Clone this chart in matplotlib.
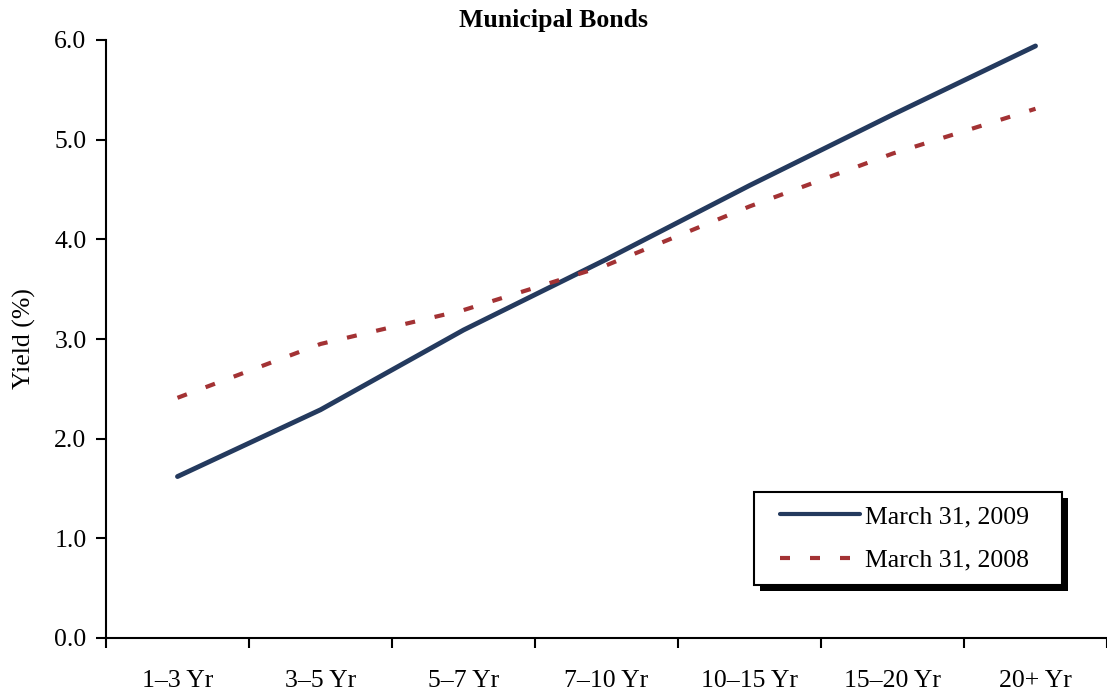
import matplotlib
matplotlib.use("Agg")
import matplotlib.pyplot as plt
from matplotlib.patches import Rectangle
from matplotlib.transforms import IdentityTransform

plt.rcParams['font.family'] = ['Liberation Serif', 'DejaVu Serif']

maturities = ["1–3 Yr", "3–5 Yr", "5–7 Yr", "7–10 Yr", "10–15 Yr", "15–20 Yr", "20+ Yr"]
yield_2009 = [1.62, 2.29, 3.09, 3.80, 4.54, 5.25, 5.94]
yield_2008 = [2.41, 2.95, 3.29, 3.74, 4.33, 4.86, 5.31]

navy = "#243a5e"
brick = "#a33234"
fs = 18.5

fig = plt.figure(figsize=(11.07, 6.94), dpi=100)
ax = fig.add_axes([106/1107, 1 - 638/694, 1 - 106/1107, (638 - 40)/694])

x = list(range(len(maturities)))
ax.plot(x, yield_2009, color=navy, lw=3.5, solid_capstyle='round', label="March 31, 2009")
ax.plot(x, yield_2008, color=brick, lw=3.0, dashes=(2.4, 4.8), dash_capstyle='butt',
        label="March 31, 2008")

ax.set_xlim(-0.5, len(maturities) - 0.5)
ax.set_ylim(0, 6)
ax.set_yticks([0, 1, 2, 3, 4, 5, 6])
ax.set_yticklabels([f"{v:.1f}" for v in range(7)])
ax.set_xticks([i - 0.5 for i in range(len(maturities) + 1)])
ax.set_xticklabels([])
ax.set_xticks(x, minor=True)
ax.set_xticklabels(maturities, minor=True)
ax.tick_params(axis='x', which='minor', length=0, pad=23, labelsize=fs)
ax.tick_params(axis='x', which='major', direction='out', length=7, width=1.5)
ax.tick_params(axis='y', direction='out', length=7, width=1.5, pad=7, labelsize=fs)

for s in ['top', 'right']:
    ax.spines[s].set_visible(False)
for s in ['left', 'bottom']:
    ax.spines[s].set_linewidth(1.5)
ax.spines['bottom'].set_clip_on(False)

ax.set_ylabel("Yield (%)", fontsize=fs, labelpad=13)
fig.text(0.5, 1 - 20/694, "Municipal Bonds", ha='center', va='center',
         fontsize=fs, fontweight='bold')

# legend without its own frame; box and shadow drawn around it below
leg = ax.legend(loc='upper left', bbox_to_anchor=(780/1107, 1 - 505/694),
                bbox_transform=fig.transFigure, fontsize=fs, frameon=False,
                handlelength=3.1, borderpad=0, labelspacing=0.8,
                handletextpad=0.2, borderaxespad=0)
leg.set_zorder(6)
for h in leg.get_lines():
    h.set_linewidth(3.0)

fig.canvas.draw()
bb = leg.get_window_extent()
x0, y0 = bb.x0 - 26, bb.y0 - 13
w, h = bb.width + 26 + 33, bb.height + 26
shadow = Rectangle((x0 + 6, y0 - 6), w, h, facecolor='black', edgecolor='none',
                   transform=IdentityTransform(), zorder=4.8, clip_on=False)
box = Rectangle((x0, y0), w, h, facecolor='white', edgecolor='black', lw=1.5,
                transform=IdentityTransform(), zorder=4.9, clip_on=False)
ax.add_patch(shadow)
ax.add_patch(box)

fig.savefig("out.png", dpi=100)
